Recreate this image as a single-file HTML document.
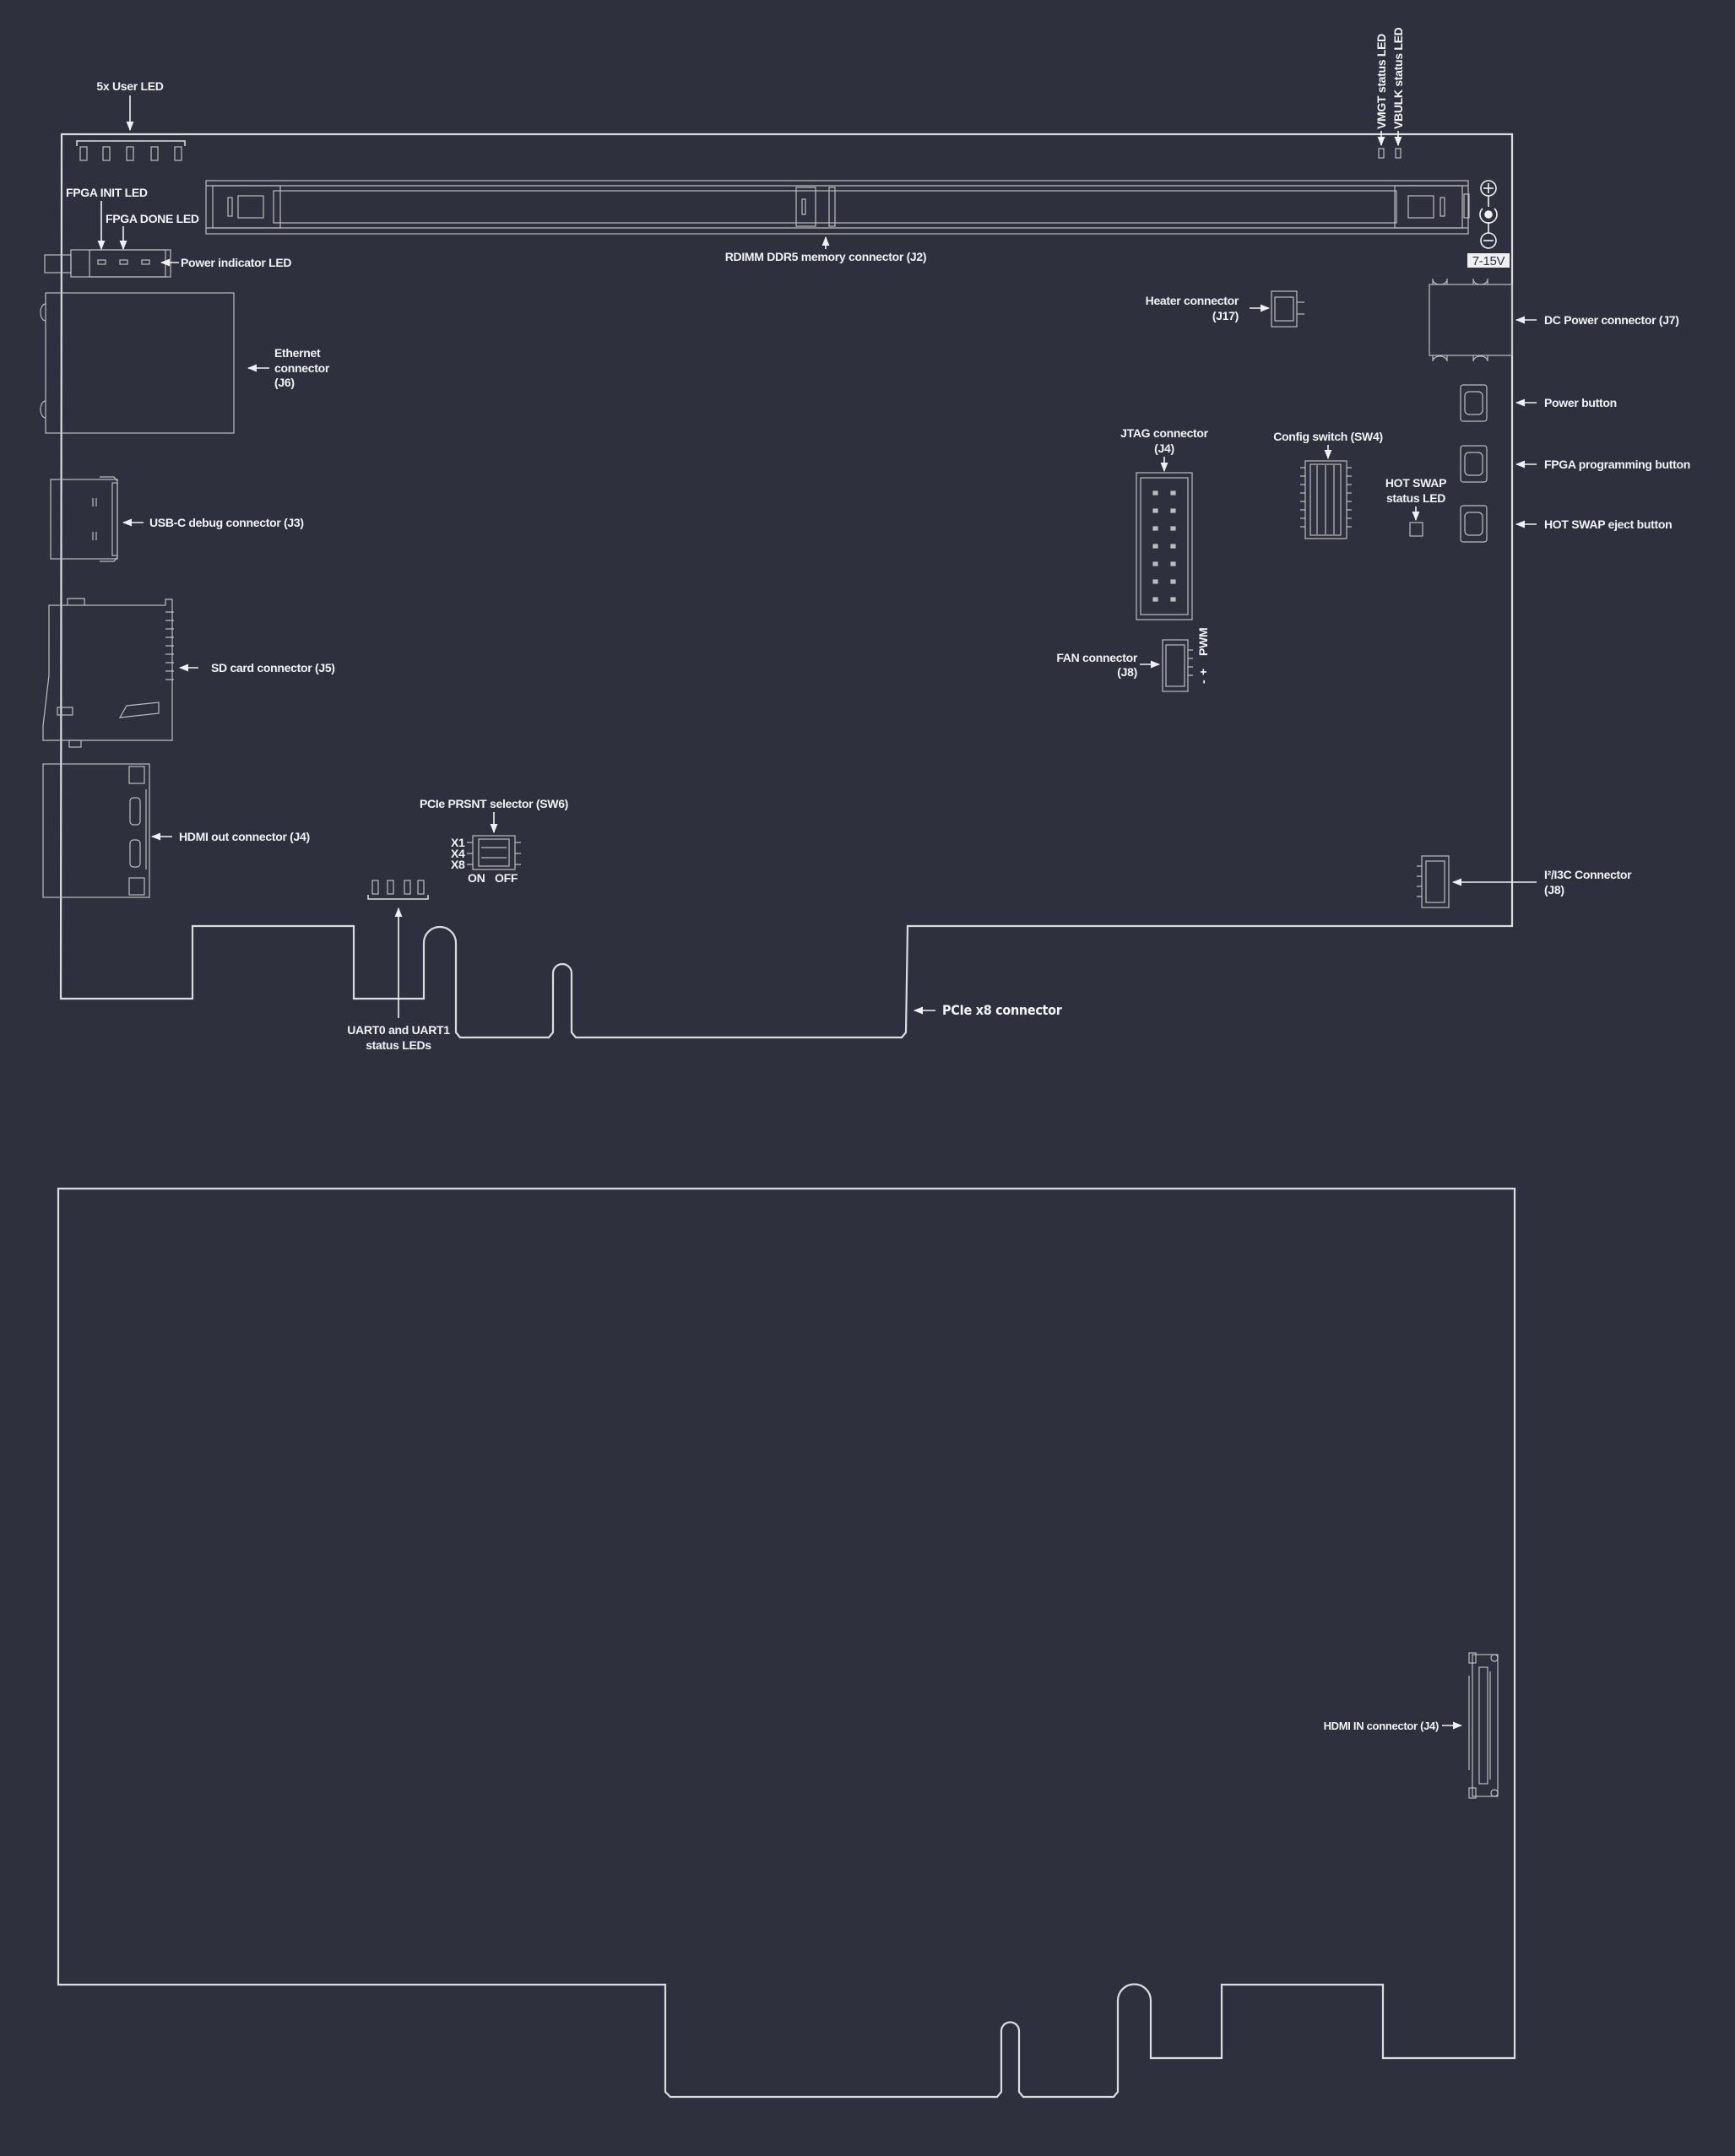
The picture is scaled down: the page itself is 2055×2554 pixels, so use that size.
<!DOCTYPE html>
<html><head><meta charset="utf-8"><style>
html,body{margin:0;padding:0;background:#2e303d;}
svg{display:block;}
text{font-family:"Liberation Sans",sans-serif;font-weight:bold;fill:#f2f2f2;font-size:14px;letter-spacing:-0.3px;}
.o{fill:none;stroke:#dcdcdc;stroke-width:2.2;}
.c{fill:none;stroke:#bdbdbd;stroke-width:1.2;}
.a{stroke:#f0f0f0;stroke-width:1.6;fill:none;}
.h{fill:#f0f0f0;}
</style></head><body>
<svg width="2055" height="2554" viewBox="0 0 2055 2554" xmlns="http://www.w3.org/2000/svg">
<defs>
<marker id="ar" viewBox="0 0 10 10" refX="9" refY="5" markerWidth="7" markerHeight="7" orient="auto"><path d="M0,1 L10,5 L0,9 z" fill="#f0f0f0"/></marker>
</defs>
<!-- upper board outline -->
<path class="o" d="M1791,159 L73,159 L72,1183 L228,1183 L228,1097 L419,1097 L419,1183 L502,1183 L502,1117 A19,19 0 0 1 540,1117 L540,1223 L545,1229 L650,1229 L655,1223 L655,1153 A11,11 0 0 1 677,1153 L677,1223 L682,1229 L1068,1229 L1073,1223 L1075,1097 L1791,1097 Z"/>
<!-- lower board outline -->
<path class="o" d="M69,1408 L1794,1408 L1794,2438 L1638,2438 L1638,2351 L1447,2351 L1447,2438 L1363,2438 L1363,2370 A19.5,19.5 0 0 0 1324,2370 L1324,2478 L1319,2484 L1212,2484 L1207,2478 L1207,2406 A10.5,10.5 0 0 0 1186,2406 L1186,2478 L1181,2484 L794,2484 L788,2478 L788,2351 L69,2351 Z"/>

<!-- 5x user LED -->
<text x="154" y="107" text-anchor="middle">5x User LED</text>
<line class="a" x1="154" y1="113" x2="154" y2="154" marker-end="url(#ar)"/>
<path class="c" d="M91,173 L91,167 L219,167 L219,173" style="stroke:#e0e0e0;stroke-width:1.5"/>
<g class="c"><rect x="95" y="174" width="8" height="16"/><rect x="122" y="174" width="8" height="16"/><rect x="150" y="174" width="8" height="16"/><rect x="179" y="174" width="8" height="16"/><rect x="207" y="174" width="8" height="16"/></g>

<text x="78" y="233">FPGA INIT LED</text>
<line class="a" x1="120" y1="238" x2="120" y2="295" marker-end="url(#ar)"/>
<text x="125" y="264">FPGA DONE LED</text>
<line class="a" x1="146" y1="268" x2="146" y2="295" marker-end="url(#ar)"/>
<g class="c"><rect x="84" y="296" width="118" height="32"/><rect x="53" y="302" width="31" height="21"/><rect x="106" y="296" width="90" height="32"/><rect x="116" y="308" width="9" height="5"/><rect x="142" y="308" width="9" height="5"/><rect x="168" y="308" width="9" height="5"/></g>
<line class="a" x1="212" y1="311" x2="191" y2="311" marker-end="url(#ar)"/>
<text x="214" y="316">Power indicator LED</text>

<!-- DIMM -->
<g class="c">
<rect x="244" y="214" width="1495" height="63"/>
<line x1="244" y1="220" x2="1739" y2="220"/><line x1="244" y1="270" x2="1739" y2="270"/>
<rect x="324" y="226" width="1330" height="38"/>
<rect x="252" y="220" width="80" height="50"/>
<rect x="282" y="232" width="30" height="26"/>
<rect x="270" y="234" width="5" height="22"/>
<rect x="943" y="222" width="23" height="46"/><rect x="950" y="236" width="4" height="18"/>
<rect x="982" y="222" width="7" height="46"/>
<rect x="1652" y="220" width="80" height="50"/>
<rect x="1668" y="232" width="30" height="26"/>
<rect x="1706" y="234" width="5" height="22"/>
<rect x="1734" y="230" width="6" height="28"/>
</g>
<line class="a" x1="978" y1="295" x2="978" y2="281" marker-end="url(#ar)"/>
<text x="978" y="309" text-anchor="middle">RDIMM DDR5 memory connector (J2)</text>

<!-- VMGT VBULK -->
<text transform="translate(1641,153) rotate(-90)">VMGT status LED</text>
<text transform="translate(1661,153) rotate(-90)">VBULK status LED</text>
<line class="a" x1="1636" y1="155" x2="1636" y2="172" marker-end="url(#ar)"/>
<line class="a" x1="1656" y1="155" x2="1656" y2="172" marker-end="url(#ar)"/>
<rect class="c" x="1633" y="176" width="6" height="11"/><rect class="c" x="1653" y="176" width="6" height="11"/>

<!-- power symbol -->
<g style="stroke:#f0f0f0;stroke-width:1.6;fill:none">
<circle cx="1763" cy="223" r="9"/><line x1="1757" y1="223" x2="1769" y2="223"/><line x1="1763" y1="217" x2="1763" y2="229"/>
<line x1="1763" y1="232" x2="1763" y2="245"/>
<path d="M1756,247 A10,10 0 1 0 1770,247"/><circle cx="1763" cy="254" r="4" fill="#f0f0f0"/>
<line x1="1763" y1="263" x2="1763" y2="276"/>
<circle cx="1763" cy="285" r="9"/><line x1="1757" y1="285" x2="1769" y2="285"/>
</g>
<rect x="1738" y="300" width="50" height="17" fill="#f0f0f0"/>
<text x="1763" y="314" text-anchor="middle" style="fill:#2e303d;font-weight:normal;font-size:15px">7-15V</text>

<!-- DC power -->
<g class="c"><rect x="1693" y="337" width="98" height="84"/>
<path d="M1697,337 L1697,330 M1714,337 L1714,330 M1697,331 A8.5,6 0 0 0 1714,331 M1745,337 L1745,330 M1762,337 L1762,330 M1745,331 A8.5,6 0 0 0 1762,331"/>
<path d="M1697,421 L1697,428 M1714,421 L1714,428 M1697,428 A8.5,6 0 0 1 1714,428 M1745,421 L1745,428 M1762,421 L1762,428 M1745,428 A8.5,6 0 0 1 1762,428"/></g>
<line class="a" x1="1820" y1="379" x2="1796" y2="379" marker-end="url(#ar)"/>
<text x="1829" y="384">DC Power connector (J7)</text>

<!-- buttons -->
<g class="c">
<rect x="1730" y="456" width="31" height="43" rx="3"/><rect x="1735" y="464" width="21" height="27" rx="5"/>
<rect x="1730" y="528" width="31" height="43" rx="3"/><rect x="1735" y="536" width="21" height="27" rx="5"/>
<rect x="1730" y="599" width="31" height="43" rx="3"/><rect x="1735" y="607" width="21" height="27" rx="5"/>
</g>
<line class="a" x1="1820" y1="477" x2="1796" y2="477" marker-end="url(#ar)"/>
<text x="1829" y="482">Power button</text>
<line class="a" x1="1820" y1="550" x2="1796" y2="550" marker-end="url(#ar)"/>
<text x="1829" y="555">FPGA programming button</text>
<line class="a" x1="1820" y1="621" x2="1796" y2="621" marker-end="url(#ar)"/>
<text x="1829" y="626">HOT SWAP eject button</text>

<!-- heater -->
<text x="1467" y="361" text-anchor="end">Heater connector</text>
<text x="1467" y="379" text-anchor="end">(J17)</text>
<line class="a" x1="1480" y1="365" x2="1503" y2="365" marker-end="url(#ar)"/>
<g class="c"><rect x="1506" y="345" width="30" height="42"/><rect x="1510" y="352" width="22" height="28"/><line x1="1536" y1="358" x2="1545" y2="358"/><line x1="1536" y1="372" x2="1545" y2="372"/></g>

<!-- JTAG -->
<text x="1379" y="518" text-anchor="middle">JTAG connector</text>
<text x="1379" y="536" text-anchor="middle">(J4)</text>
<line class="a" x1="1379" y1="541" x2="1379" y2="558" marker-end="url(#ar)"/>
<g class="c"><rect x="1346" y="560" width="66" height="174"/><rect x="1351" y="566" width="56" height="162"/>
<g fill="#bdbdbd"><rect x="1366" y="582" width="5" height="4"/><rect x="1387" y="582" width="5" height="4"/><rect x="1366" y="603" width="5" height="4"/><rect x="1387" y="603" width="5" height="4"/><rect x="1366" y="624" width="5" height="4"/><rect x="1387" y="624" width="5" height="4"/><rect x="1366" y="645" width="5" height="4"/><rect x="1387" y="645" width="5" height="4"/><rect x="1366" y="666" width="5" height="4"/><rect x="1387" y="666" width="5" height="4"/><rect x="1366" y="687" width="5" height="4"/><rect x="1387" y="687" width="5" height="4"/><rect x="1366" y="708" width="5" height="4"/><rect x="1387" y="708" width="5" height="4"/></g></g>

<!-- config switch -->
<text x="1573" y="522" text-anchor="middle">Config switch (SW4)</text>
<line class="a" x1="1573" y1="527" x2="1573" y2="543" marker-end="url(#ar)"/>
<g class="c"><rect x="1546" y="546" width="49" height="92"/><rect x="1552" y="550" width="36" height="84"/>
<path d="M1540,554h6M1540,564h6M1540,574h6M1540,584h6M1540,594h6M1540,604h6M1540,614h6M1540,624h6M1595,554h6M1595,564h6M1595,574h6M1595,584h6M1595,594h6M1595,604h6M1595,614h6M1595,624h6"/>
<path d="M1560,551v82M1570,551v82M1580,551v82"/></g>

<!-- hot swap led -->
<text x="1677" y="577" text-anchor="middle">HOT SWAP</text>
<text x="1677" y="595" text-anchor="middle">status LED</text>
<line class="a" x1="1677" y1="600" x2="1677" y2="616" marker-end="url(#ar)"/>
<rect class="c" x="1670" y="619" width="15" height="16"/>

<!-- FAN -->
<text x="1347" y="784" text-anchor="end">FAN connector</text>
<text x="1347" y="801" text-anchor="end">(J8)</text>
<line class="a" x1="1350" y1="787" x2="1373" y2="787" marker-end="url(#ar)"/>
<g class="c"><rect x="1377" y="758" width="30" height="61"/><rect x="1381" y="764" width="22" height="49"/><path d="M1407,770h6M1407,780h6M1407,790h6M1407,800h6"/></g>
<text transform="translate(1430,777) rotate(-90)">PWM</text>
<text transform="translate(1430,800) rotate(-90)">+</text>
<text transform="translate(1430,810) rotate(-90)">-</text>

<!-- I2C -->
<g class="c"><rect x="1684" y="1014" width="32" height="61"/><rect x="1689" y="1020" width="22" height="49"/><path d="M1678,1026h6M1678,1038h6M1678,1050h6M1678,1062h6"/></g>
<line class="a" x1="1820" y1="1045" x2="1721" y2="1045" marker-end="url(#ar)"/>
<text x="1829" y="1041">I²/I3C Connector</text>
<text x="1829" y="1059">(J8)</text>

<!-- Ethernet -->
<g class="c"><rect x="54" y="347" width="223" height="166"/><path d="M54,360 A6,10 0 0 0 54,380 M54,475 A6,10 0 0 0 54,495"/></g>
<line class="a" x1="319" y1="436" x2="294" y2="436" marker-end="url(#ar)"/>
<text x="325" y="423">Ethernet</text><text x="325" y="441">connector</text><text x="325" y="458">(J6)</text>

<!-- USB-C -->
<g class="c"><rect x="60" y="568" width="79" height="94"/><path d="M118,565 L135,565 L139,570 M118,665 L135,665 L139,660"/><rect x="133" y="572" width="6" height="86"/><path d="M110,590v10M114,590v10M110,630v10M114,630v10"/></g>
<line class="a" x1="170" y1="619" x2="146" y2="619" marker-end="url(#ar)"/>
<text x="177" y="624">USB-C debug connector (J3)</text>

<!-- SD -->
<g class="c"><path d="M58,717 L196,717 L196,710 L204,710 L204,877 L51,877 L51,860 L58,800 Z"/><path d="M80,717 L80,709 L100,709 L100,717"/>
<path d="M196,725h10M196,735h10M196,745h10M196,755h10M196,765h10M196,775h10M196,785h10M196,795h10M196,805h10"/>
<rect x="68" y="838" width="18" height="9"/><path d="M142,850 L188,845 L188,832 L150,836 Z"/><rect x="82" y="877" width="14" height="8"/></g>
<line class="a" x1="235" y1="791" x2="213" y2="791" marker-end="url(#ar)"/>
<text x="250" y="796">SD card connector (J5)</text>

<!-- HDMI out -->
<g class="c"><rect x="51" y="905" width="126" height="158"/><rect x="153" y="908" width="18" height="20"/><rect x="153" y="1040" width="18" height="20"/><rect x="154" y="945" width="12" height="32" rx="4"/><rect x="154" y="995" width="12" height="32" rx="4"/><path d="M173,935v95"/></g>
<line class="a" x1="204" y1="991" x2="180" y2="991" marker-end="url(#ar)"/>
<text x="212" y="996">HDMI out connector (J4)</text>

<!-- PCIe PRSNT -->
<text x="585" y="957" text-anchor="middle">PCIe PRSNT selector (SW6)</text>
<line class="a" x1="585" y1="962" x2="585" y2="986" marker-end="url(#ar)"/>
<g class="c"><rect x="560" y="990" width="50" height="40"/><rect x="567" y="994" width="36" height="32"/><path d="M553,998h7M553,1011h7M553,1024h7M610,998h7M610,1011h7M610,1024h7M570,1004h30M570,1016h30"/></g>
<text x="534" y="1003">X1</text><text x="534" y="1016">X4</text><text x="534" y="1029">X8</text>
<text x="554" y="1045">ON</text><text x="586" y="1045">OFF</text>

<!-- UART LEDs -->
<g class="c"><rect x="441" y="1043" width="7" height="16"/><rect x="459" y="1043" width="7" height="16"/><rect x="479" y="1043" width="7" height="16"/><rect x="495" y="1043" width="7" height="16"/></g>
<path d="M436,1060 L436,1065 L507,1065 L507,1060" style="stroke:#e0e0e0;stroke-width:1.5;fill:none"/>
<line class="a" x1="472" y1="1206" x2="472" y2="1076" marker-end="url(#ar)"/>
<text x="472" y="1225" text-anchor="middle">UART0 and UART1</text>
<text x="472" y="1243" text-anchor="middle">status LEDs</text>

<line class="a" x1="1108" y1="1197" x2="1083" y2="1197" marker-end="url(#ar)"/>
<text x="1116" y="1202" style="font-family:'DejaVu Sans Condensed','DejaVu Sans',sans-serif;font-size:16px">PCIe x8 connector</text>

<!-- HDMI IN -->
<g class="c"><rect x="1744" y="1960" width="30" height="168"/><rect x="1752" y="1975" width="10" height="138"/><path d="M1740,1985v112M1765,1980v128"/><circle cx="1770" cy="1964" r="4"/><circle cx="1770" cy="2124" r="4"/><rect x="1740" y="1958" width="8" height="12"/><rect x="1740" y="2118" width="8" height="12"/></g>
<line class="a" x1="1708" y1="2044" x2="1731" y2="2044" marker-end="url(#ar)"/>
<text x="1704" y="2049" text-anchor="end" style="font-size:13px">HDMI IN connector (J4)</text>
</svg>
</body></html>
